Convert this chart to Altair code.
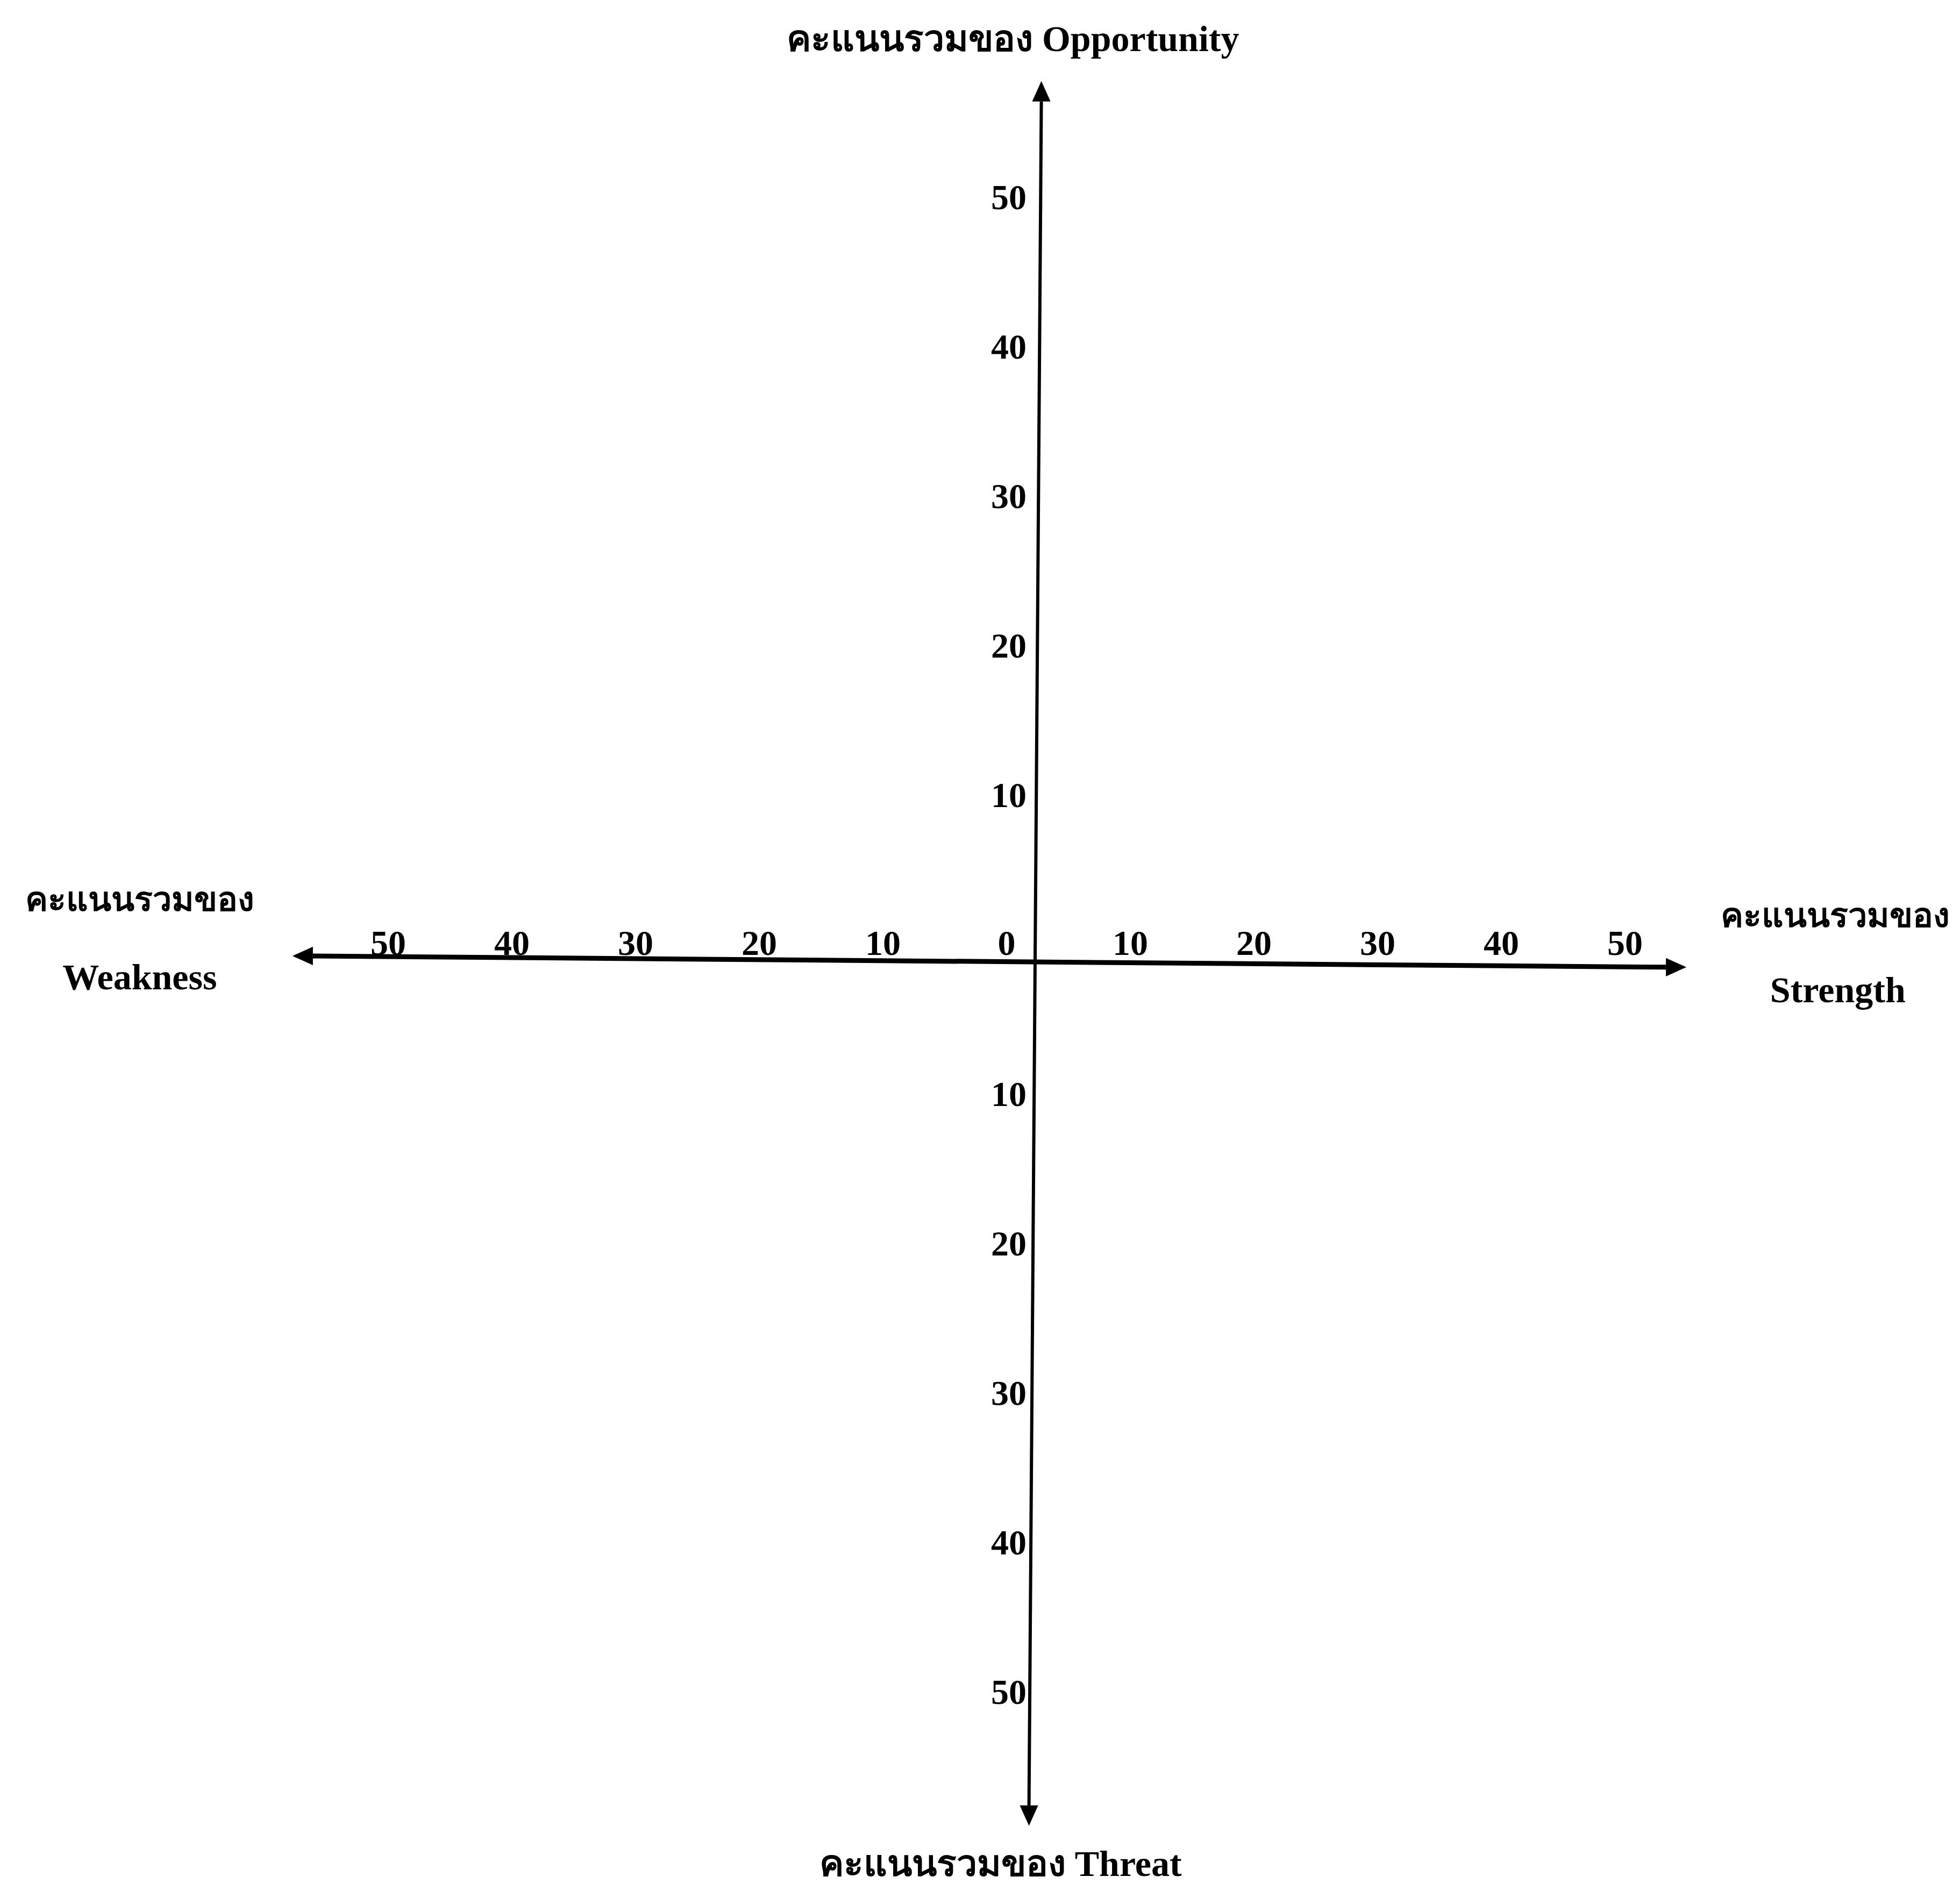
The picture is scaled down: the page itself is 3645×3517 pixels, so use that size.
import altair as alt
import pandas as pd

# ---- values ----
x_tick_values = [-50, -40, -30, -20, -10, 0, 10, 20, 30, 40, 50]
y_tick_values = [50, 40, 30, 20, 10, -10, -20, -30, -40, -50]

# axis extents (data units) where the arrow heads sit
h_axis_x = [-58.4, 51.0]
h_axis_y = [0.33, -0.42]
v_axis_x = [0.5, -0.5]
v_axis_y = [57.5, -56.5]

thai = "คะแนนรวมของ"
# titles on one line (top / bottom) and the English words under the side labels
main_texts = [thai + " Opportunity", "Weakness", "Strength", thai + " Threat"]
main_x = [-1.8, -72.4, 64.9, -2.8]
main_y = [61.6, -1.2, -2.05, -60.5]
# Thai-only first lines of the side labels
side_texts = [thai, thai]
side_x = [-72.4, 64.7]
side_y = [4.05, 2.95]

# ---- layout ----
W, H = 3629, 3501
x_scale = alt.Scale(domain=[-83.35, 74.43], nice=False, zero=False)
y_scale = alt.Scale(domain=[-61.94, 64.0], nice=False, zero=False)
FONT = "Liberation Serif"

axes_df = pd.DataFrame({
    "x": [h_axis_x[0], v_axis_x[0]],
    "x2": [h_axis_x[1], v_axis_x[1]],
    "y": [h_axis_y[0], v_axis_y[0]],
    "y2": [h_axis_y[1], v_axis_y[1]],
    "w": [9, 6],
})
axes = alt.Chart(axes_df).mark_rule(color="black").encode(
    x=alt.X("x:Q", scale=x_scale, axis=None),
    x2="x2:Q",
    y=alt.Y("y:Q", scale=y_scale, axis=None),
    y2="y2:Q",
    strokeWidth=alt.StrokeWidth("w:Q", scale=None, legend=None),
)

arrow_df = pd.DataFrame({
    "x": [v_axis_x[0], h_axis_x[1], v_axis_x[1], h_axis_x[0]],
    "y": [v_axis_y[0], h_axis_y[1], v_axis_y[1], h_axis_y[0]],
    "angle": [0, 90, 180, 270],
})
arrows = alt.Chart(arrow_df).mark_point(
    shape="M0,-2L0.9,0L-0.9,0Z", filled=True, size=1444, color="black", opacity=1
).encode(
    x=alt.X("x:Q", scale=x_scale, axis=None),
    y=alt.Y("y:Q", scale=y_scale, axis=None),
    angle=alt.Angle("angle:Q", scale=None),
)

xt_df = pd.DataFrame({"v": x_tick_values, "y": [0] * len(x_tick_values),
                      "t": [str(abs(v)) for v in x_tick_values]})
x_ticks = alt.Chart(xt_df).mark_text(
    font=FONT, fontWeight="bold", fontSize=66, color="black",
    align="center", baseline="middle", dx=-53, dy=-31
).encode(
    x=alt.X("v:Q", scale=x_scale, axis=None),
    y=alt.Y("y:Q", scale=y_scale, axis=None),
    text="t:N",
)

yt_df = pd.DataFrame({"v": y_tick_values, "x": [0] * len(y_tick_values),
                      "t": [str(abs(v)) for v in y_tick_values]})
y_ticks = alt.Chart(yt_df).mark_text(
    font=FONT, fontWeight="bold", fontSize=66, color="black",
    align="right", baseline="middle", dx=-16, dy=-28
).encode(
    x=alt.X("x:Q", scale=x_scale, axis=None),
    y=alt.Y("v:Q", scale=y_scale, axis=None),
    text="t:N",
)

main_df = pd.DataFrame({"x": main_x, "y": main_y, "t": main_texts})
titles = alt.Chart(main_df).mark_text(
    font=FONT, fontWeight="bold", fontSize=68, color="black",
    align="center", baseline="middle"
).encode(
    x=alt.X("x:Q", scale=x_scale, axis=None),
    y=alt.Y("y:Q", scale=y_scale, axis=None),
    text="t:N",
)

side_df = pd.DataFrame({"x": side_x, "y": side_y, "t": side_texts})
side = alt.Chart(side_df).mark_text(
    font=FONT, fontWeight="bold", fontSize=63, color="black",
    align="center", baseline="middle"
).encode(
    x=alt.X("x:Q", scale=x_scale, axis=None),
    y=alt.Y("y:Q", scale=y_scale, axis=None),
    text="t:N",
)

chart = alt.layer(axes, arrows, x_ticks, y_ticks, titles, side).properties(
    width=W, height=H, padding=0,
    autosize=alt.AutoSizeParams(type="none"),
    background="white",
).configure_view(stroke=None)

chart.save("out.html", embed_options={"renderer": "svg", "actions": False})
